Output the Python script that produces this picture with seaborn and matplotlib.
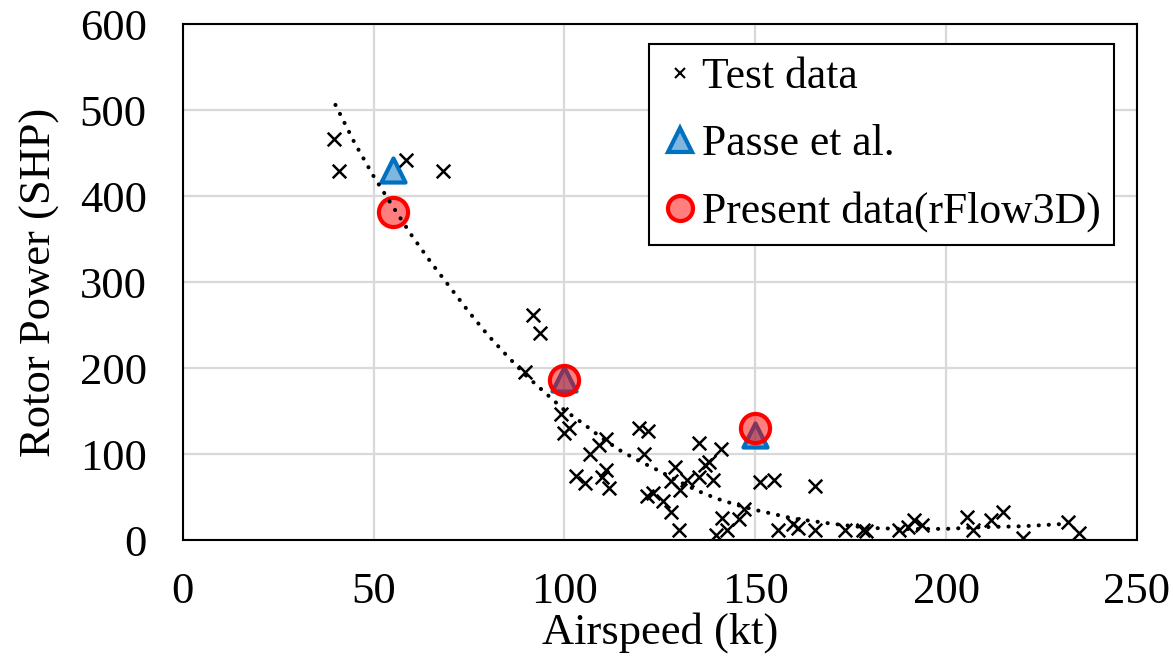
import matplotlib
matplotlib.use("Agg")
import matplotlib.pyplot as plt
from matplotlib.lines import Line2D
import seaborn as sns
import pandas as pd

# ---- data ----
test_speed = [39.6, 40.9, 58.6, 68.2, 91.8, 93.5, 89.6, 99.2, 101.3, 100.0,
              110.9, 109.0, 106.7, 119.6, 121.8, 120.8, 103.1, 105.5, 110.9, 109.8,
              111.8, 121.5, 123.2, 125.8, 135.2, 140.9, 129.0, 136.9, 138.0, 127.8,
              132.2, 135.2, 138.9, 130.4, 127.8, 130.0, 141.3, 139.6, 142.6, 145.6,
              147.0, 151.3, 154.8, 156.0, 165.6, 160.0, 161.3, 165.6, 173.6, 178.2,
              179.0, 187.7, 189.9, 191.7, 193.8, 205.4, 207.1, 211.7, 215.0, 220.2,
              231.9, 234.7]
test_power = [466, 429, 442, 429, 262, 241, 195, 146, 130, 124,
              117, 111, 100, 130, 127, 100, 75, 66, 82, 73,
              60, 51, 55, 45, 113, 106, 85, 87, 91, 69,
              70, 73, 70, 58, 33, 12, 26, 6, 12, 24,
              36, 67, 70, 12, 63, 19, 14, 12, 12, 12,
              11, 12, 15, 23, 18, 27, 12, 23, 33, 2,
              21, 8]

passe_speed = [55, 100, 150]
passe_power = [430, 187, 122]

present_speed = [55, 100, 150]
present_power = [381, 186, 130]

trend_speed = [40, 45, 50, 55, 60, 65, 70, 75, 80, 85, 90, 95, 100, 105, 110,
               115, 120, 125, 130, 135, 140, 145, 150, 155, 160, 170, 180, 190,
               200, 210, 220, 232]
trend_power = [506, 462, 423, 388, 354, 323, 294, 265, 238, 214, 191, 171, 151,
               135, 118, 103, 91, 80, 68, 57, 48, 41, 35, 30, 25, 19, 14, 12.8,
               13, 15, 16, 19]

x_ticks = [0, 50, 100, 150, 200, 250]
y_ticks = [0, 100, 200, 300, 400, 500, 600]

# ---- style ----
sns.set_style("white")
plt.rcParams['font.family'] = ['Liberation Serif', 'DejaVu Serif']
for key in ['text.color', 'axes.labelcolor', 'xtick.color', 'ytick.color']:
    plt.rcParams[key] = 'black'
FS = 32
LFS = 31.4

fig = plt.figure(figsize=(11.73, 6.58), dpi=100)
ax = fig.add_axes([0.1558, 0.1793, 0.8135, 0.7842])

blue_edge = '#0070C0'
blue_face = (0.0, 0.44, 0.75, 0.5)
red_edge = '#FF0000'
red_face = (1.0, 0.0, 0.0, 0.5)

sns.scatterplot(x=passe_speed, y=passe_power, marker='^', s=300,
                facecolor=blue_face, edgecolor=blue_edge, linewidth=3.0,
                ax=ax, zorder=3, legend=False)
sns.scatterplot(x=present_speed, y=present_power, marker='o', s=440,
                facecolor=red_face, edgecolor=red_edge, linewidth=3.0,
                ax=ax, zorder=4, legend=False)
sns.scatterplot(x=test_speed, y=test_power, marker='x', s=95,
                color='black', linewidth=1.8, ax=ax, zorder=5, legend=False)
trend_df = pd.DataFrame({'speed': trend_speed, 'power': trend_power})
sns.lineplot(data=trend_df, x='speed', y='power', sort=False, color='black',
             linewidth=2.9, linestyle=(0, (0.05, 2.45)),
             ax=ax, zorder=6, legend=False)
for ln in ax.lines:
    ln.set_dash_capstyle('round')

ax.set_xlim(0, 250)
ax.set_ylim(0, 600)
ax.set_xticks(x_ticks)
ax.set_yticks(y_ticks)
ax.tick_params(axis='both', direction='in', length=10, width=1.5,
               labelsize=FS, colors='black')
ax.tick_params(axis='x', pad=23)
ax.tick_params(axis='y', pad=26)
ax.grid(True, color='#D9D9D9', linewidth=1.6)
ax.set_axisbelow(True)
for sp in ax.spines.values():
    sp.set_color('black')
    sp.set_linewidth(1.5)

ax.set_xlabel('Airspeed (kt)', fontsize=FS, labelpad=0)
ax.set_ylabel('Rotor Power (SHP)', fontsize=FS, labelpad=14)

handles = [
    Line2D([], [], linestyle='none', marker='x', color='black', markersize=7,
           markeredgewidth=1.5),
    Line2D([], [], linestyle='none', marker='^', markersize=17,
           markerfacecolor=blue_face, markeredgecolor=blue_edge, markeredgewidth=3),
    Line2D([], [], linestyle='none', marker='o', markersize=18,
           markerfacecolor=red_face, markeredgecolor=red_edge, markeredgewidth=3),
]
labels = ['Test data', 'Passe et al.', 'Present data(rFlow3D)']
leg = ax.legend(handles, labels, loc='upper right', bbox_to_anchor=(0.976, 0.961),
                fontsize=LFS, frameon=True, fancybox=False, framealpha=1,
                edgecolor='black', handlelength=0.8, handletextpad=0.12,
                labelspacing=0.62, borderpad=0.3, borderaxespad=0)
leg.get_frame().set_linewidth(1.5)
leg.set_zorder(10)

fig.savefig('out.png', dpi=100)
